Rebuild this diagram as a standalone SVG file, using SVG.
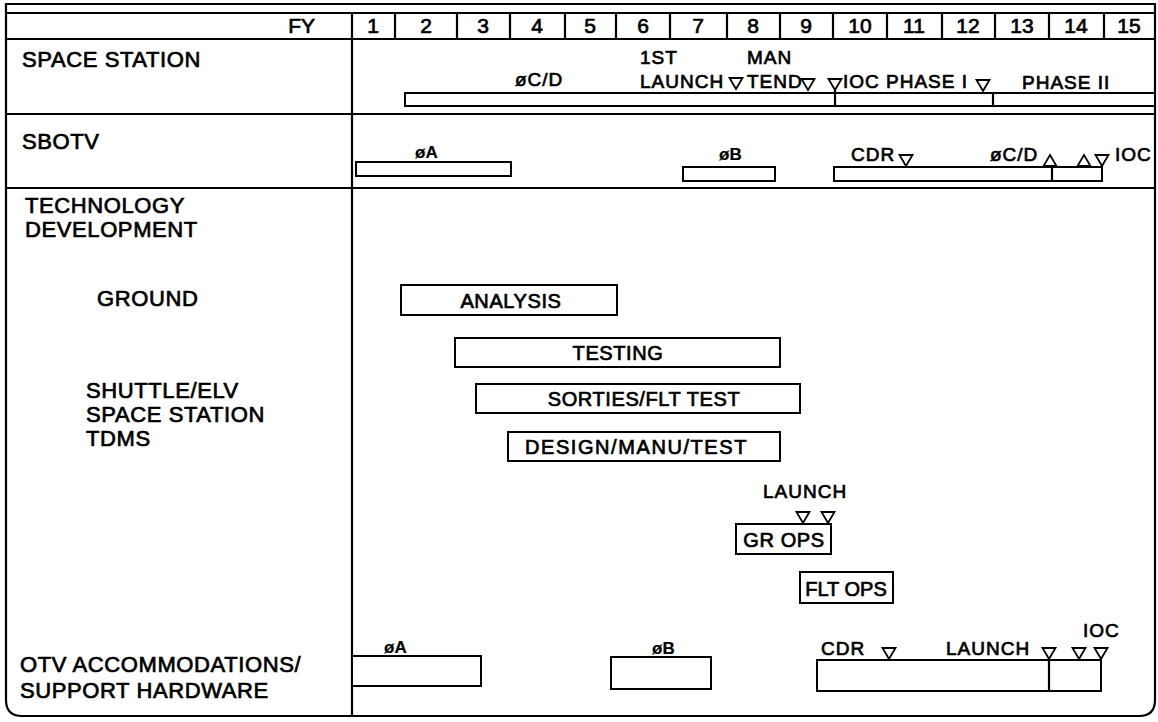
<svg xmlns="http://www.w3.org/2000/svg" width="1158" height="722" viewBox="0 0 1158 722">
<style>
text { font-family: "Liberation Sans", Arial, Helvetica, sans-serif; font-weight: normal; fill: #000; stroke: #000; stroke-width: 0.7px; }
.lbl { font-size: 22px; letter-spacing: 0.6px; }
.num { font-size: 21px; text-anchor: middle; }
.ms { font-size: 19px; letter-spacing: 1px; }
.ph { font-size: 17px; font-weight: bold; stroke-width: 0.2px; }
.bx { font-size: 20px; letter-spacing: 0.6px; text-anchor: middle; }
.ln { stroke: #000; stroke-width: 2.2; fill: none; }
.bar { stroke: #000; stroke-width: 2; fill: #fff; }
</style>
<defs>
<path id="tdn" d="M-6.5,-11 L6.5,-11 L0,0 Z" fill="#fff" stroke="#000" stroke-width="1.8"/>
<path id="tup" d="M-6.5,0 L6.5,0 L0,-11 Z" fill="#fff" stroke="#000" stroke-width="1.8"/>
</defs>
<rect width="1158" height="722" fill="#fff"/>

<g id="grid">
<path class="ln" stroke-width="2.5" d="M6,4 H1155 V700 Q1155,716 1139,716 H22 Q6,716 6,700 Z"/>
<path class="ln" d="M6,13 H1155 M6,39 H1155 M6,114 H1155 M6,188 H1155 M352,13 V716"/>
<path class="ln" d="M395,13 V39 M457,13 V39 M510,13 V39 M565,13 V39 M616,13 V39 M670,13 V39 M727,13 V39 M780,13 V39 M833,13 V39 M887,13 V39 M942,13 V39 M995,13 V39 M1049,13 V39 M1104,13 V39"/>
</g>

<g id="header">
<text x="315" y="33" class="num" style="text-anchor:end">FY</text>
<text x="373" y="33" class="num">1</text>
<text x="426" y="33" class="num">2</text>
<text x="483" y="33" class="num">3</text>
<text x="537" y="33" class="num">4</text>
<text x="590" y="33" class="num">5</text>
<text x="643" y="33" class="num">6</text>
<text x="698" y="33" class="num">7</text>
<text x="753" y="33" class="num">8</text>
<text x="806" y="33" class="num">9</text>
<text x="860" y="33" class="num">10</text>
<text x="914" y="33" class="num">11</text>
<text x="968" y="33" class="num">12</text>
<text x="1022" y="33" class="num">13</text>
<text x="1076" y="33" class="num">14</text>
<text x="1129" y="33" class="num">15</text>
</g>

<g id="space-station">
<text x="22" y="67" class="lbl">SPACE STATION</text>
<rect class="bar" x="405" y="93" width="750" height="13"/>
<path class="ln" d="M835,88 V106 M993,93 V106"/>
<text x="515" y="86" class="ms">øC/D</text>
<text x="640" y="64" class="ms">1ST</text>
<text x="640" y="88" class="ms">LAUNCH</text>
<text x="747" y="64" class="ms">MAN</text>
<text x="747" y="88" class="ms">TEND</text>
<text x="843" y="88" class="ms">IOC PHASE I</text>
<text x="1022" y="89" class="ms">PHASE II</text>
<use href="#tdn" x="736" y="89"/>
<use href="#tdn" x="808" y="90"/>
<use href="#tdn" x="835" y="90"/>
<use href="#tdn" x="983" y="91"/>
</g>

<g id="sbotv">
<text x="22" y="149" class="lbl">SBOTV</text>
<text x="415" y="158" class="ph">øA</text>
<rect class="bar" x="356" y="162" width="155" height="14"/>
<text x="719" y="160" class="ph">øB</text>
<rect class="bar" x="683" y="167" width="92" height="14"/>
<text x="851" y="161" class="ms">CDR</text>
<text x="990" y="161" class="ms">øC/D</text>
<text x="1115" y="161" class="ms">IOC</text>
<rect class="bar" x="834" y="167" width="268" height="14"/>
<path class="ln" d="M1052,167 V181"/>
<use href="#tdn" x="906" y="166"/>
<use href="#tup" x="1050" y="166"/>
<use href="#tup" x="1084" y="166"/>
<use href="#tdn" x="1102" y="166"/>
</g>

<g id="technology">
<text x="25" y="213" class="lbl">TECHNOLOGY</text>
<text x="25" y="237" class="lbl">DEVELOPMENT</text>
<text x="97" y="306" class="lbl">GROUND</text>
<text x="86" y="398" class="lbl">SHUTTLE/ELV</text>
<text x="86" y="422" class="lbl">SPACE STATION</text>
<text x="86" y="446" class="lbl">TDMS</text>
</g>

<g id="analysis">
<rect class="bar" x="401" y="285" width="216" height="30"/>
<text x="511" y="308" class="bx">ANALYSIS</text>
</g>
<g id="testing">
<rect class="bar" x="455" y="338" width="325" height="29"/>
<text x="618" y="360" class="bx">TESTING</text>
</g>
<g id="sorties">
<rect class="bar" x="476" y="384" width="324" height="29"/>
<text x="644" y="406" class="bx">SORTIES/FLT TEST</text>
</g>
<g id="design">
<rect class="bar" x="508" y="432" width="272" height="29"/>
<text x="636" y="454" class="bx" textLength="222">DESIGN/MANU/TEST</text>
</g>
<g id="gr-ops">
<text x="763" y="498" class="ms">LAUNCH</text>
<use href="#tdn" x="803" y="523"/>
<use href="#tdn" x="828" y="523"/>
<rect class="bar" x="736" y="524" width="95" height="30"/>
<text x="784" y="547" class="bx">GR OPS</text>
</g>
<g id="flt-ops">
<rect class="bar" x="800" y="572" width="93" height="31"/>
<text x="846" y="596" class="bx" style="letter-spacing:0">FLT OPS</text>
</g>

<g id="otv">
<text x="20" y="672" class="lbl">OTV ACCOMMODATIONS/</text>
<text x="20" y="698" class="lbl">SUPPORT HARDWARE</text>
<text x="384" y="653" class="ph">øA</text>
<rect class="bar" x="352" y="656" width="129" height="30"/>
<text x="652" y="654" class="ph">øB</text>
<rect class="bar" x="611" y="657" width="100" height="32"/>
<text x="821" y="655" class="ms">CDR</text>
<text x="946" y="655" class="ms">LAUNCH</text>
<text x="1083" y="637" class="ms">IOC</text>
<rect class="bar" x="817" y="660" width="284" height="31"/>
<path class="ln" d="M1049,659 V691"/>
<use href="#tdn" x="889" y="659"/>
<use href="#tdn" x="1049" y="659"/>
<use href="#tdn" x="1079" y="659"/>
<use href="#tdn" x="1101" y="659"/>
</g>
</svg>
